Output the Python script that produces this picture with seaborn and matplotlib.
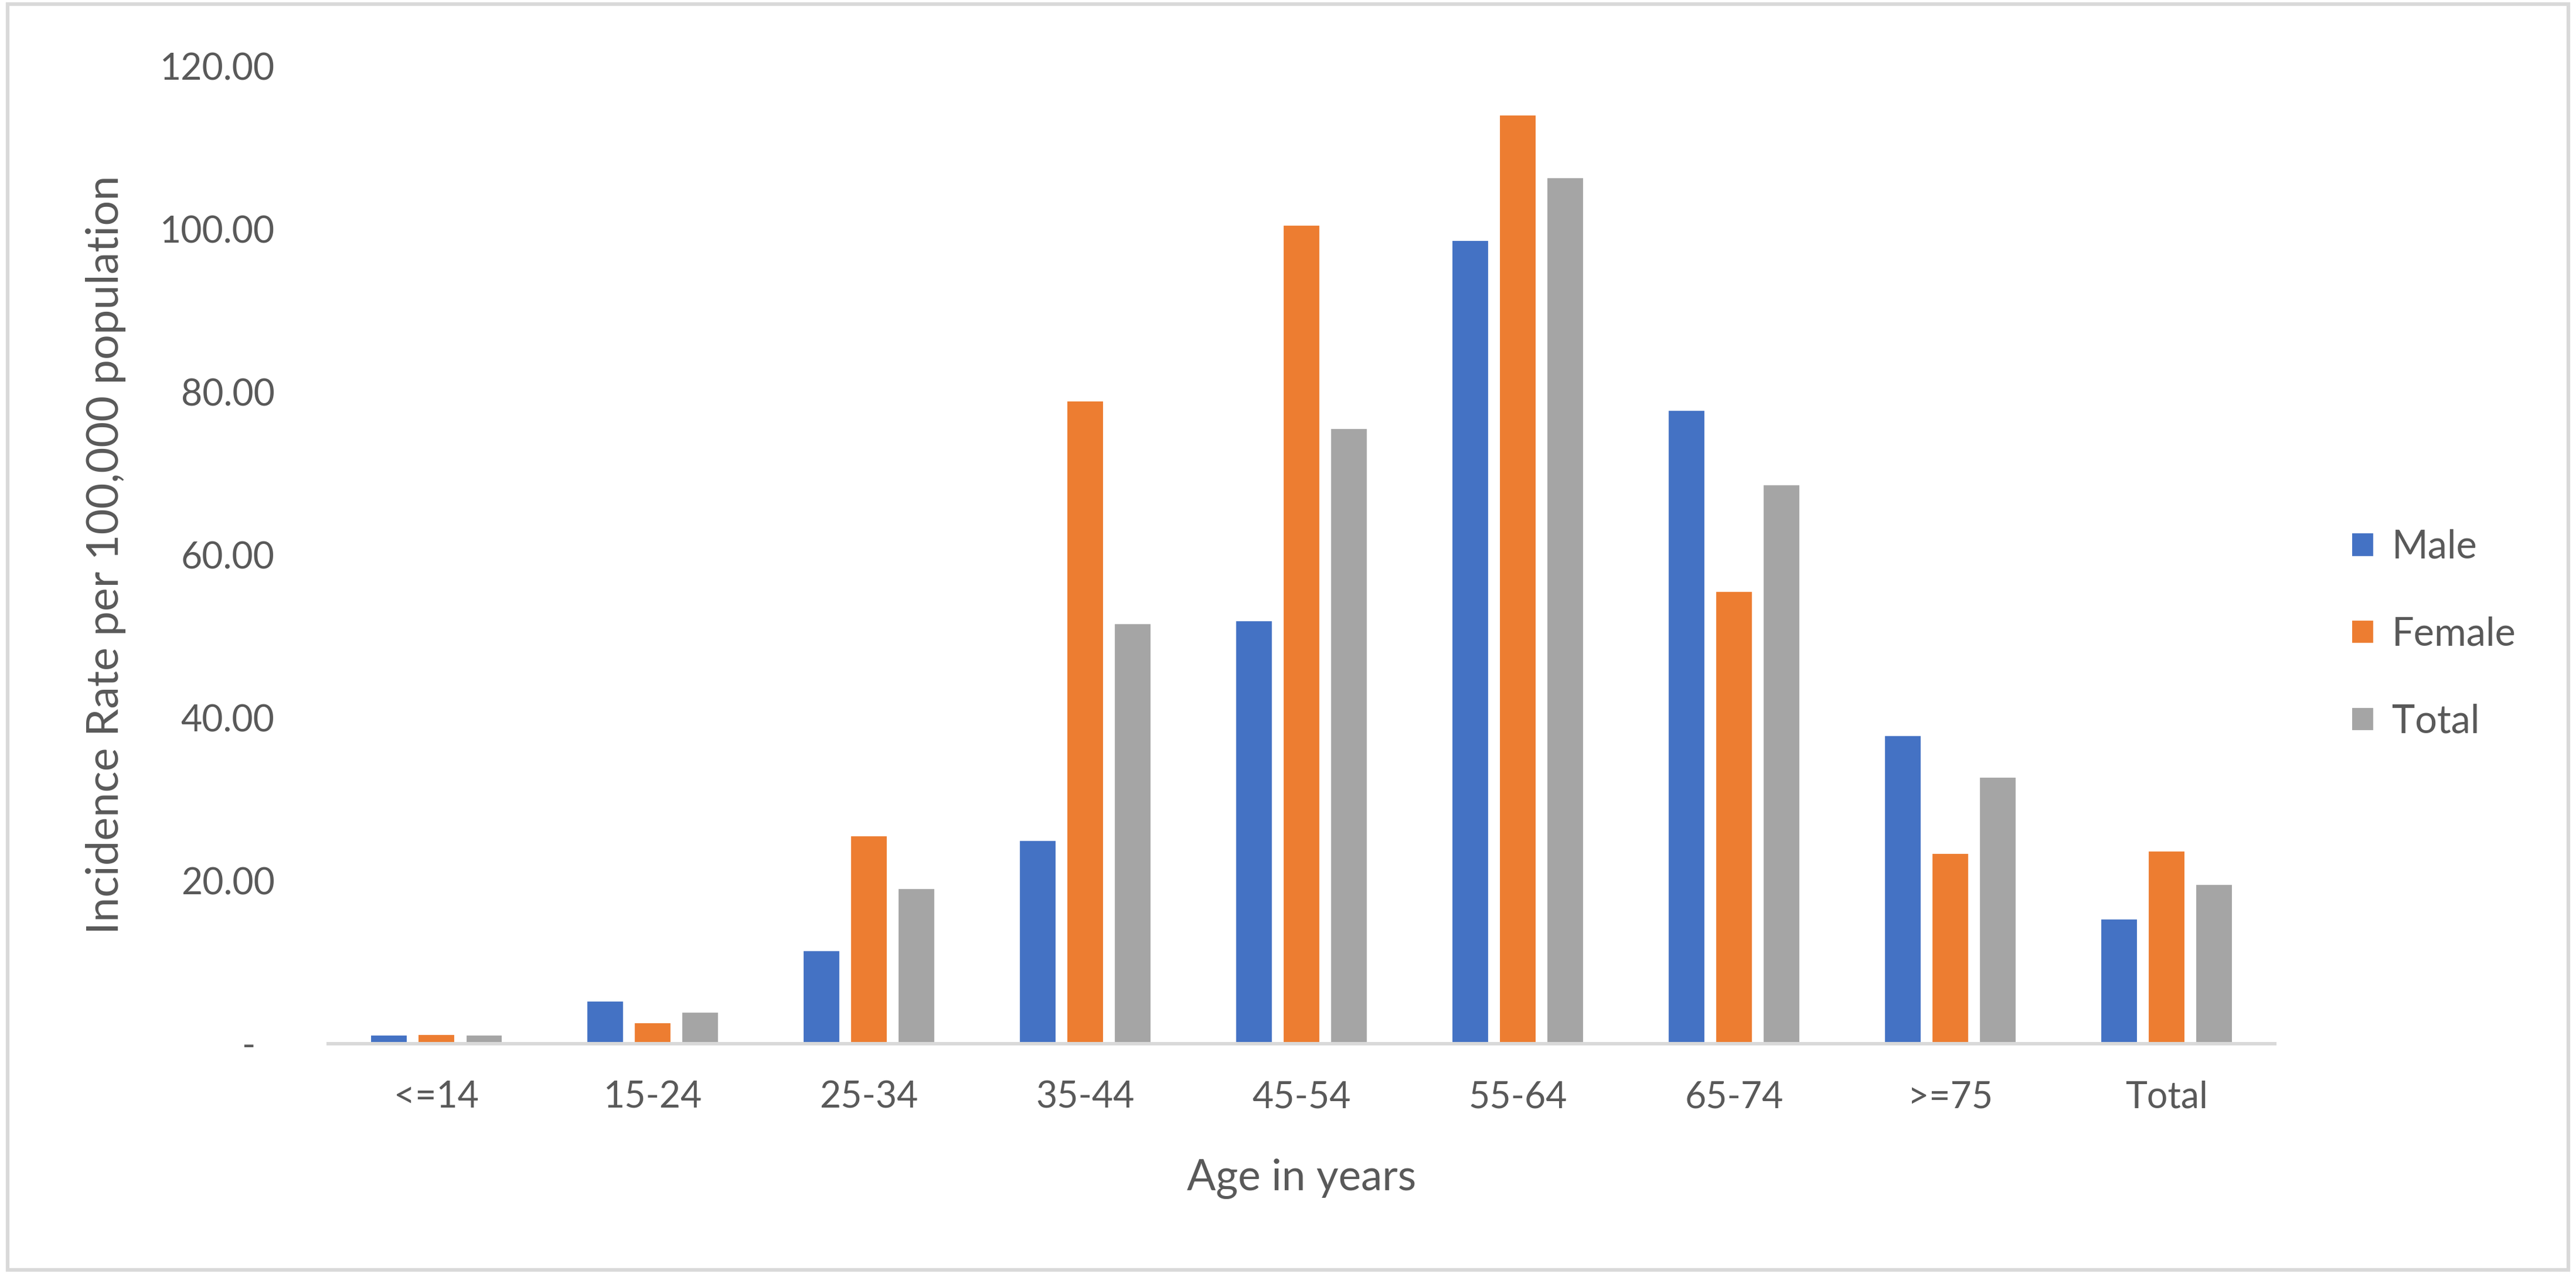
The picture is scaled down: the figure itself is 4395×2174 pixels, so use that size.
import pandas as pd
import numpy as np
import matplotlib.pyplot as plt
import seaborn as sns
from matplotlib.patches import Rectangle
from matplotlib.ticker import FuncFormatter

# values
age_groups = ['<=14', '15-24', '25-34', '35-44', '45-54', '55-64', '65-74', '>=75', 'Total']
male = [1.08, 5.28, 11.5, 25.0, 52.0, 98.7, 77.8, 37.9, 15.4]
female = [1.16, 2.60, 25.6, 79.0, 100.6, 114.1, 55.6, 23.4, 23.7]
total = [1.08, 3.90, 19.1, 51.6, 75.6, 106.4, 68.7, 32.8, 19.6]
series_names = ['Male', 'Female', 'Total']
series_colors = ['#4472C4', '#ED7D31', '#A5A5A5']
y_ticks = [0, 20, 40, 60, 80, 100, 120]

df = pd.DataFrame({
    'age': age_groups * 3,
    'rate': male + female + total,
    'sex': np.repeat(series_names, len(age_groups)),
})

sns.set_style('white')
plt.rcParams['font.family'] = ['Lato', 'DejaVu Sans']
text_color = '#595959'

fig = plt.figure(figsize=(4395 / 300, 2174 / 300), dpi=300)
ax = fig.add_axes([0.1275, 0.181, 0.7555, 0.767])

sns.barplot(data=df, x='age', y='rate', hue='sex', order=age_groups,
            hue_order=series_names, palette=series_colors, saturation=1,
            width=0.66, gap=0.2, ax=ax)

ax.set_ylim(0, 120)
ax.set_xlim(-0.5, len(age_groups) - 0.5)
ax.set_yticks(y_ticks)
ax.yaxis.set_major_formatter(FuncFormatter(lambda v, p: '-  ' if v == 0 else f'{v:.2f}'))
ax.tick_params(axis='both', length=0, labelsize=15, labelcolor=text_color)
ax.tick_params(axis='y', pad=22)
ax.tick_params(axis='x', pad=15)

for side in ['left', 'right', 'top']:
    ax.spines[side].set_visible(False)
ax.spines['bottom'].set_color('#D9D9D9')
ax.spines['bottom'].set_linewidth(1.4)

ax.set_xlabel('Age in years', fontsize=17.5, color=text_color)
ax.set_ylabel('Incidence Rate per 100,000 population', fontsize=18.2, color=text_color)
ax.xaxis.set_label_coords(0.5, -0.118)
ax.yaxis.set_label_coords(-0.104, 0.5)

# legend on the right, square markers
handles, labels = ax.get_legend_handles_labels()
ax.get_legend().remove()
fig.legend(handles, labels, loc='center left', bbox_to_anchor=(0.905, 0.502),
           frameon=False, fontsize=16, labelcolor=text_color,
           handlelength=0.6, handleheight=0.6, handletextpad=0.45,
           labelspacing=1.3, borderpad=0)

# chart area border
fig.patches.append(Rectangle((0.003, 0.003), 0.994, 0.994, transform=fig.transFigure,
                             fill=False, edgecolor='#D9D9D9', linewidth=1.5))

fig.savefig('out.png', dpi=300, facecolor='white')
